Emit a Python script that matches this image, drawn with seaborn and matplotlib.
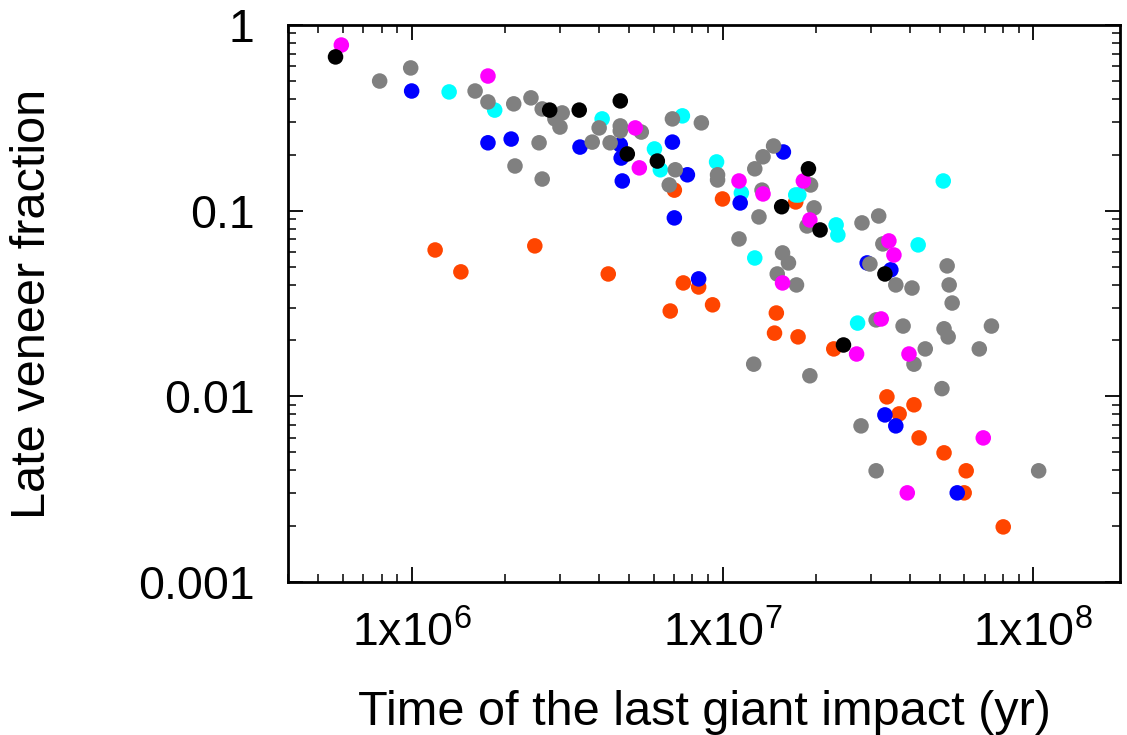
import numpy as np
import pandas as pd
import matplotlib
matplotlib.use("Agg")
import matplotlib.pyplot as plt
import matplotlib.ticker as mticker
import seaborn as sns

# ---------------- data ----------------
orange_t = [1.19e6, 1.44e6, 2.49e6, 4.29e6, 6.79e6, 7.48e6, 8.38e6, 9.29e6, 7.0e6, 1.0e7,
            1.72e7, 1.49e7, 1.47e7, 1.75e7, 2.28e7, 3.38e7, 4.13e7, 3.70e7, 4.29e7, 5.16e7,
            6.08e7, 5.99e7, 8.0e7]
orange_f = [0.0614, 0.0468, 0.0646, 0.0456, 0.0288, 0.0408, 0.0388, 0.0311, 0.129, 0.1156,
            0.1114, 0.0281, 0.0219, 0.0209, 0.0180, 0.00993, 0.0090, 0.00804, 0.00597, 0.00496,
            0.00397, 0.00302, 0.00198]

cyan_t = [1.32e6, 1.85e6, 4.10e6, 7.43e6, 6.04e6, 6.31e6, 9.57e6, 1.15e7, 1.72e7, 1.76e7,
          2.32e7, 2.35e7, 5.13e7, 4.26e7, 1.27e7, 2.72e7]
cyan_f = [0.436, 0.348, 0.312, 0.324, 0.215, 0.166, 0.183, 0.1245, 0.1215, 0.1215,
          0.0838, 0.074, 0.1445, 0.0654, 0.0556, 0.0248]

blue_t = [1.0e6, 1.76e6, 2.09e6, 3.48e6, 4.69e6, 4.72e6, 4.76e6, 7.0e6, 7.71e6, 6.90e6,
          1.14e7, 1.57e7, 8.38e6, 2.92e7, 3.48e7, 3.33e7, 3.61e7, 5.69e7]
blue_f = [0.441, 0.232, 0.243, 0.220, 0.226, 0.192, 0.1445, 0.0914, 0.156, 0.234,
          0.110, 0.207, 0.0429, 0.0523, 0.048, 0.00794, 0.00693, 0.00302]

gray_t = [7.89e5, 9.93e5, 1.60e6, 1.76e6, 2.13e6, 2.42e6, 2.63e6, 3.05e6, 2.89e6, 3.0e6,
          2.57e6, 2.15e6, 2.63e6, 4.01e6, 4.69e6, 4.69e6, 5.48e6, 3.81e6, 4.35e6, 6.90e6,
          8.55e6, 7.05e6, 6.74e6, 9.64e6, 9.64e6, 1.34e7, 1.31e7, 1.13e7, 1.56e7, 1.27e7,
          1.35e7, 1.46e7, 1.92e7, 1.97e7, 1.87e7, 1.63e7, 1.50e7, 1.73e7, 2.81e7, 3.18e7,
          3.28e7, 2.98e7, 3.61e7, 4.07e7, 5.28e7, 5.36e7, 5.48e7, 3.12e7, 3.81e7, 5.16e7,
          5.32e7, 7.33e7, 4.49e7, 4.13e7, 6.70e7, 1.26e7, 1.91e7, 5.08e7, 2.79e7, 3.12e7,
          1.04e8]
gray_f = [0.499, 0.587, 0.441, 0.385, 0.376, 0.405, 0.353, 0.336, 0.312, 0.282,
          0.232, 0.174, 0.148, 0.279, 0.286, 0.269, 0.265, 0.234, 0.232, 0.312,
          0.297, 0.166, 0.1375, 0.156, 0.1463, 0.129, 0.0925, 0.0704, 0.0592, 0.168,
          0.195, 0.223, 0.1375, 0.1035, 0.0827, 0.0523, 0.0456, 0.0398, 0.0859, 0.0936,
          0.0662, 0.0516, 0.0398, 0.0383, 0.0504, 0.0398, 0.0318, 0.0258, 0.0239, 0.0231,
          0.0209, 0.0239, 0.0180, 0.0149, 0.0180, 0.0149, 0.0129, 0.0110, 0.00693, 0.00397,
          0.00397]

magenta_t = [5.94e5, 1.76e6, 5.24e6, 5.40e6, 1.13e7, 1.35e7, 1.82e7, 1.91e7, 1.56e7, 3.43e7,
             3.56e7, 3.24e7, 2.70e7, 3.98e7, 6.90e7, 3.93e7]
magenta_f = [0.780, 0.531, 0.279, 0.170, 0.1445, 0.123, 0.1445, 0.0891, 0.0408, 0.0687,
             0.0577, 0.0261, 0.0169, 0.0169, 0.00597, 0.00302]

black_t = [5.69e5, 2.78e6, 3.46e6, 4.69e6, 4.94e6, 6.17e6, 1.89e7, 1.55e7, 2.06e7, 3.33e7, 2.45e7]
black_f = [0.673, 0.348, 0.348, 0.390, 0.202, 0.185, 0.168, 0.105, 0.0787, 0.0456, 0.0189]

groups = ["orange", "cyan", "blue", "gray", "magenta", "black"]
colors = {"orange": "#ff4500", "cyan": "#00ffff", "blue": "#0000ff",
          "gray": "#808080", "magenta": "#ff00ff", "black": "#000000"}
series = {"orange": (orange_t, orange_f), "cyan": (cyan_t, cyan_f), "blue": (blue_t, blue_f),
          "gray": (gray_t, gray_f), "magenta": (magenta_t, magenta_f), "black": (black_t, black_f)}

df = pd.concat([pd.DataFrame({"t": series[g][0], "f": series[g][1], "grp": g}) for g in groups],
               ignore_index=True)

# ---------------- styling ----------------
sns.set_style("ticks")
plt.rcParams["font.family"] = ["Liberation Sans", "DejaVu Sans"]
plt.rcParams["mathtext.fontset"] = "custom"
plt.rcParams["mathtext.rm"] = "Liberation Sans"
plt.rcParams["mathtext.it"] = "Liberation Sans:italic"
plt.rcParams["mathtext.bf"] = "Liberation Sans:bold"
plt.rcParams["text.color"] = "black"
plt.rcParams["axes.labelcolor"] = "black"
plt.rcParams["xtick.color"] = "black"
plt.rcParams["ytick.color"] = "black"

fig = plt.figure(figsize=(11.27, 7.35), dpi=100)
ax = fig.add_axes([0.2555, 0.2082, 0.9938 - 0.2555, 0.966 - 0.2082])

sns.scatterplot(data=df, x="t", y="f", hue="grp", palette=colors, hue_order=groups,
                s=125, linewidth=0, legend=False, ax=ax)

ax.set_xscale("log")
ax.set_yscale("log")
ax.set_xlim(4e5, 1.9e8)
ax.set_ylim(1e-3, 1)

ax.xaxis.set_major_locator(mticker.FixedLocator([1e6, 1e7, 1e8]))
ax.xaxis.set_major_formatter(mticker.FuncFormatter(
    lambda v, p: r"1x10$^{%d}$" % int(round(np.log10(v)))))
ax.xaxis.set_minor_locator(mticker.LogLocator(base=10, subs=np.arange(2, 10), numticks=20))
ax.xaxis.set_minor_formatter(mticker.NullFormatter())

ax.yaxis.set_major_locator(mticker.FixedLocator([1e-3, 1e-2, 1e-1, 1]))
ax.yaxis.set_major_formatter(mticker.FixedFormatter(["0.001", "0.01", "0.1", "1"]))
ax.yaxis.set_minor_locator(mticker.LogLocator(base=10, subs=np.arange(2, 10), numticks=20))
ax.yaxis.set_minor_formatter(mticker.NullFormatter())

ax.tick_params(which="both", direction="in", top=True, right=True, colors="black",
               labelcolor="black")
ax.tick_params(which="major", length=11, width=1.3, labelsize=33.5)
ax.tick_params(which="minor", length=5.5, width=1.1)
ax.tick_params(axis="x", which="major", pad=21)
ax.tick_params(axis="y", which="major", pad=24)

for sp in ax.spines.values():
    sp.set_visible(True)
    sp.set_linewidth(2.0)
    sp.set_color("black")

ax.set_xlabel("Time of the last giant impact (yr)", fontsize=35, labelpad=24, color="black")
ax.set_ylabel("Late veneer fraction", fontsize=35, labelpad=60, color="black")

fig.savefig("out.png", dpi=100)
